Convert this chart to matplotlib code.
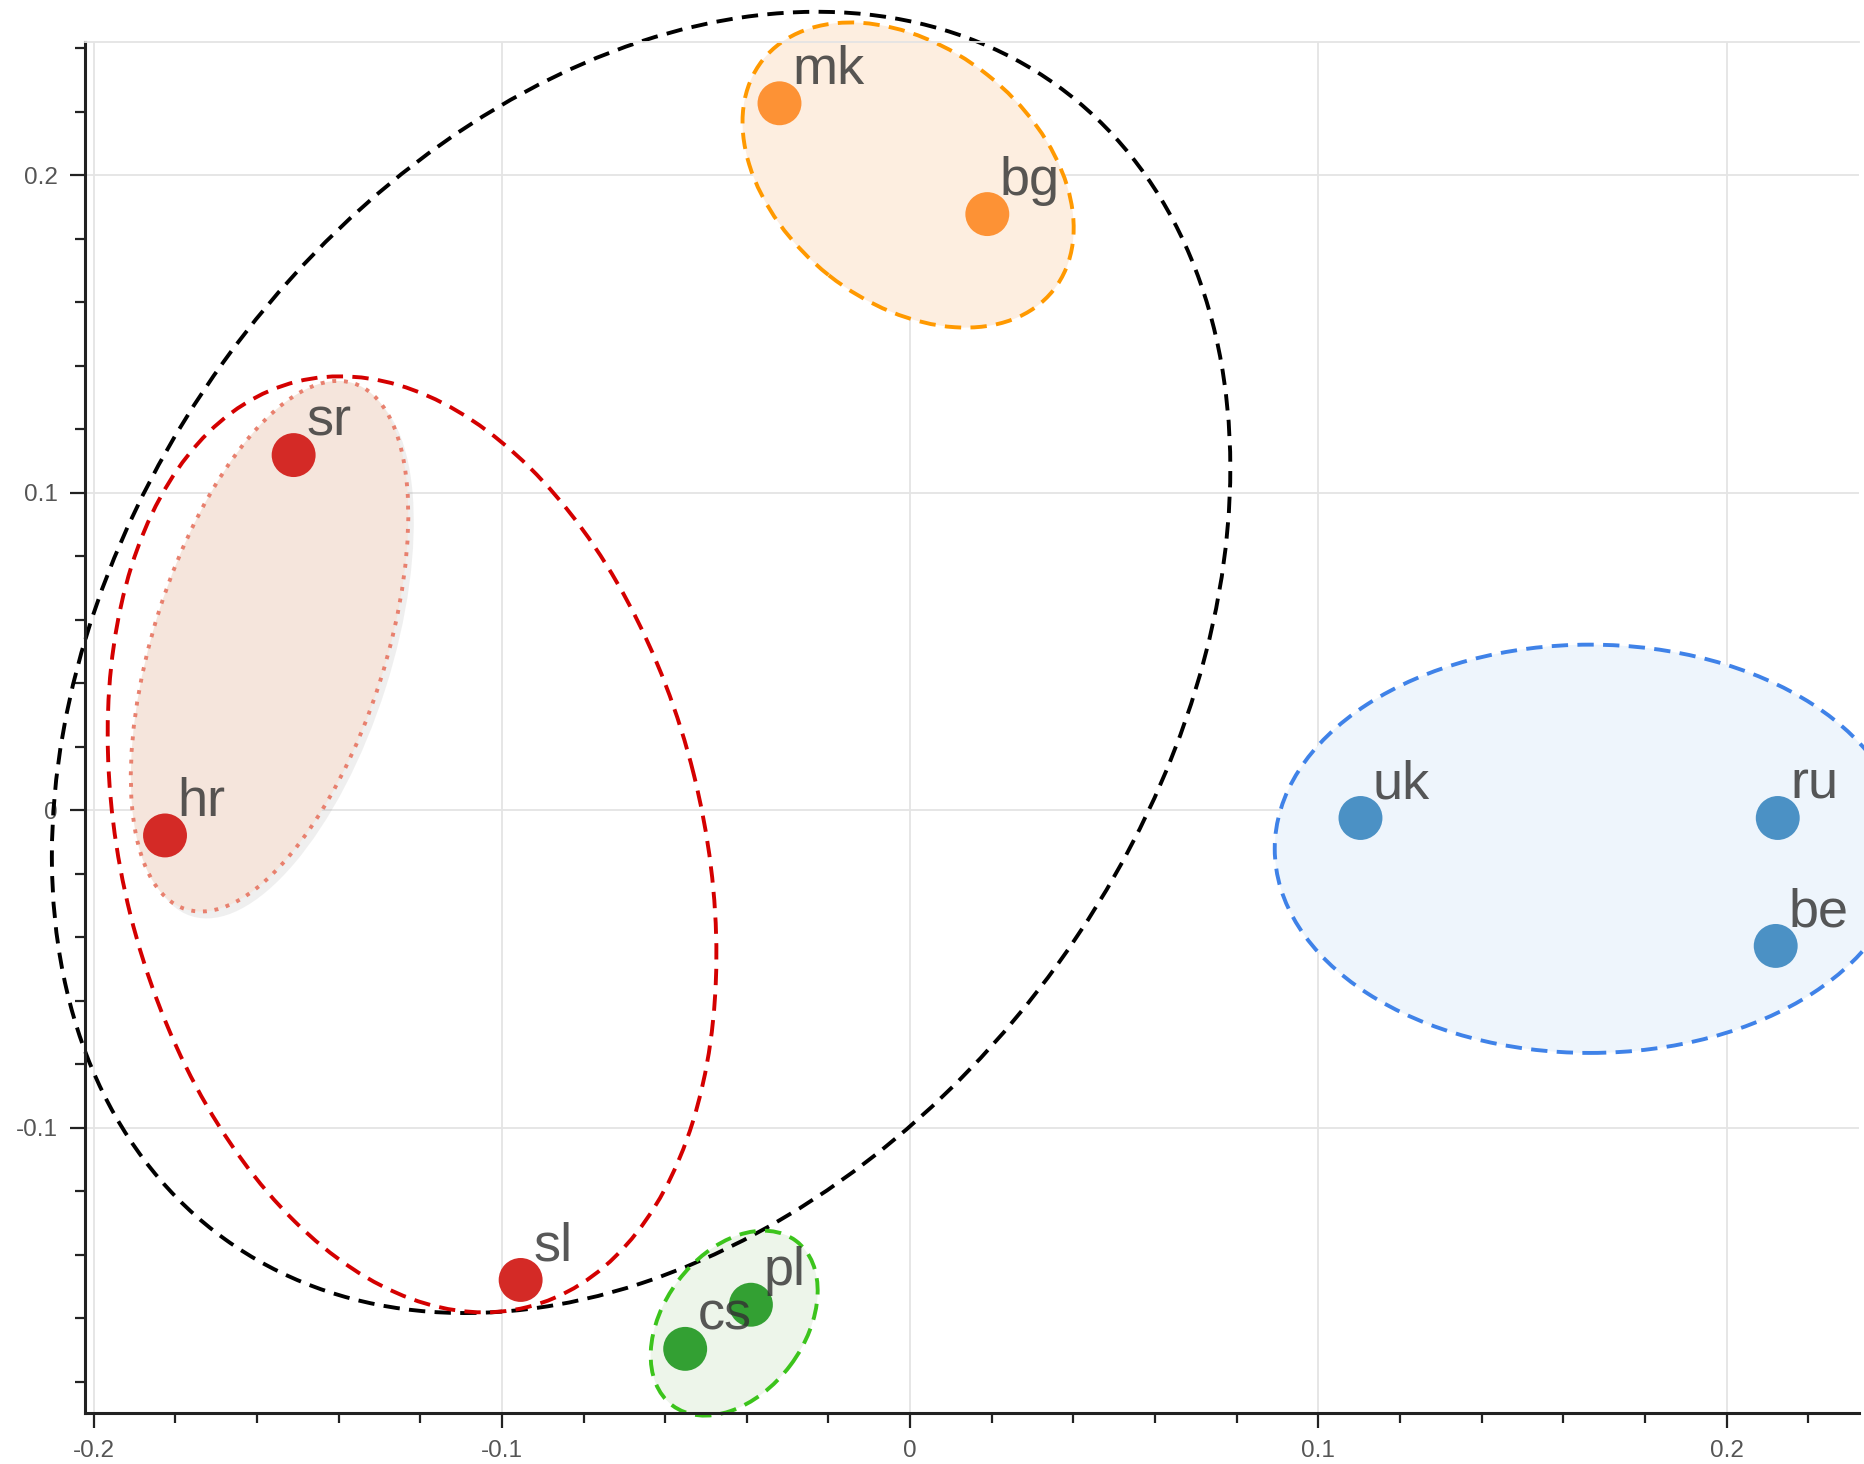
import numpy as np
import matplotlib
matplotlib.use('Agg')
import matplotlib.pyplot as plt
from matplotlib.patches import Ellipse
from matplotlib.transforms import Affine2D
from matplotlib.ticker import MultipleLocator, FuncFormatter
import matplotlib.patheffects as pe

plt.rcParams['font.family'] = ['Liberation Sans', 'DejaVu Sans']
plt.rcParams['axes.unicode_minus'] = False

# 语言点坐标
names = ['mk', 'bg', 'sr', 'hr', 'sl', 'cs', 'pl', 'uk', 'ru', 'be']
xs = [-0.0320, 0.0189, -0.1510, -0.1825, -0.0954, -0.0551, -0.0390, 0.1103, 0.2125, 0.2120]
ys = [0.2226, 0.1877, 0.1118, -0.0080, -0.1480, -0.1697, -0.1558, -0.0025, -0.0025, -0.0428]
groups = ['se', 'se', 'sw', 'sw', 'sw', 'w', 'w', 'e', 'e', 'e']

# 椭圆: 中心, 半轴 (x 单位), 角度 (屏幕坐标)
ell_names = ['south', 'south_w', 'sr_hr', 'se', 'e', 'w']
ell_cx = [-0.0659, -0.1220, -0.1569, -0.0005, 0.1665, -0.0431]
ell_cy = [0.0465, -0.0108, 0.0516, 0.2000, -0.0122, -0.1616]
ell_a = [0.1742, 0.1168, 0.0676, 0.0454, 0.0772, 0.0252]
ell_b = [0.1260, 0.0711, 0.0284, 0.0313, 0.0500, 0.0172]
ell_ang = [54.2, 104.0, 72.3, -38.35, 0.0, 53.1]

dot_colors = {'se': '#fd9235', 'sw': '#d42a26', 'w': '#33a033', 'e': '#4b91c5'}
dash = (0, (4.2, 2.4))
ell_style = {
    'south':   dict(edge='#000000', face='none', ls=dash),
    'south_w': dict(edge='#d40000', face='none', ls=dash),
    'sr_hr':   dict(edge='#e8806e', face='#f5e5dc', ls=(0, (1, 2))),
    'se':      dict(edge='#ff9900', face='#fdeee0', ls=dash),
    'e':       dict(edge='#3f82e8', face='#eef5fc', ls=dash),
    'w':       dict(edge='#3cc41c', face='#edf5ea', ls=dash),
}

fig = plt.figure(figsize=(18.65, 14.64), dpi=100)
ax = fig.add_axes([85 / 1865, 51 / 1464, 1774 / 1865, 1371 / 1464])
ax.set_xlim(-0.2021, 0.2324)
ax.set_ylim(-0.1899, 0.2419)

# 让椭圆在像素空间里保持形状
bbox = ax.get_position()
sx = bbox.width * 1865 / (0.2324 + 0.2021)
sy = bbox.height * 1464 / (0.2419 + 0.1899)
r = sy / sx
tr = Affine2D().scale(1, 1 / r) + ax.transData

for n, cx, cy, a, b, ang in zip(ell_names, ell_cx, ell_cy, ell_a, ell_b, ell_ang):
    st = ell_style[n]
    if st['face'] != 'none':
        fill = Ellipse((cx, cy * r), 2 * a, 2 * b, angle=ang, transform=tr,
                       facecolor=st['face'], edgecolor='none', zorder=1, clip_on=False)
        if n == 'sr_hr':
            fill.set_path_effects([pe.SimplePatchShadow(offset=(4, -5), shadow_rgbFace='#999999', alpha=0.15),
                                   pe.Normal()])
        ax.add_patch(fill)
    edge = Ellipse((cx, cy * r), 2 * a, 2 * b, angle=ang, transform=tr,
                   facecolor='none', edgecolor=st['edge'], lw=2.8, linestyle=st['ls'],
                   zorder=2, clip_on=False)
    ax.add_patch(edge)

ax.scatter(xs, ys, s=1000, c=[dot_colors[g] for g in groups], edgecolors='none', zorder=3, clip_on=False)
for n, x, y in zip(names, xs, ys):
    ax.annotate(n, (x, y), xytext=(9, 14), textcoords='offset points', ha='left', va='baseline',
                fontsize=39, color='#333333', alpha=0.82, zorder=4)

ax.xaxis.set_major_locator(MultipleLocator(0.1))
ax.xaxis.set_minor_locator(MultipleLocator(0.02))
ax.yaxis.set_major_locator(MultipleLocator(0.1))
ax.yaxis.set_minor_locator(MultipleLocator(0.02))
fmt = FuncFormatter(lambda v, _: '0' if abs(v) < 1e-9 else f'{v:.1f}')
ax.xaxis.set_major_formatter(fmt)
ax.yaxis.set_major_formatter(fmt)

ax.grid(True, which='major', color='#e4e4e4', lw=1.3)
ax.set_axisbelow(True)
ax.tick_params(which='major', direction='out', length=10.5, width=1.6, color='#222222',
               labelsize=17.5, labelcolor='#555555', pad=9)
ax.tick_params(which='minor', direction='out', length=7, width=1.6, color='#222222')
for s in ['left', 'bottom']:
    ax.spines[s].set_linewidth(2.2)
    ax.spines[s].set_color('#222222')
ax.spines['top'].set_color('#e4e4e4')
ax.spines['top'].set_linewidth(1.3)
ax.spines['right'].set_visible(False)

fig.savefig('out.png', dpi=100, facecolor='white')
